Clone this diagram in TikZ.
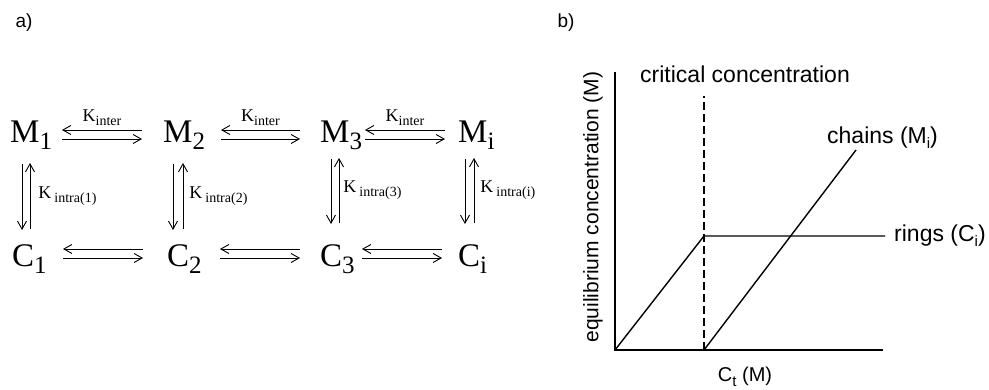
\documentclass[tikz,border=0pt]{standalone}
\usepackage{fontspec}
\setmainfont{Liberation Serif}
\setsansfont{Liberation Sans}
\usetikzlibrary{positioning,arrows.meta}
\newcommand{\msub}[1]{\raisebox{-7pt}{\fontsize{25}{25}\selectfont #1}}
\newcommand{\ksub}[1]{\raisebox{-4pt}{\fontsize{14}{14}\selectfont #1}}
\newcommand{\gsub}[1]{\raisebox{-5pt}{\fontsize{15}{15}\selectfont #1}}
\tikzset{
  mol/.style={anchor=base west,inner sep=0pt,font=\fontsize{33}{33}\selectfont},
  klab/.style={inner sep=0pt,font=\fontsize{18}{18}\selectfont},
  fwd/.style={-{Straight Barb[length=8pt,width=9pt]},line width=0.9pt},
  bwd/.style={{Straight Barb[length=8pt,width=9pt]}-,line width=0.9pt},
  axis/.style={line width=1.4pt},
  curve/.style={line width=1.4pt},
  critline/.style={line width=1.2pt,dash pattern=on 8pt off 4pt},
  glab/.style={inner sep=0pt,font=\sffamily\fontsize{23}{23}\selectfont},
  panel/.style={inner sep=0pt,font=\sffamily\fontsize{19}{19}\selectfont}
}
\begin{document}
\begin{tikzpicture}[x=1pt,y=1pt]
\useasboundingbox (0,0) rectangle (989,390);
\node[panel] (pa) at (24,367) {a)}; \node[panel] (pb) at (566,367) {b)};
% scheme a)
\node[mol] (M1) at (10,247) {M\msub{1}}; \node[mol] (M2) at (163,247) {M\msub{2}}; \node[mol] (M3) at (320,247) {M\msub{3}}; \node[mol] (Mi) at (458,247) {M\msub{i}};
\node[mol] (C1) at (12,123) {C\msub{1}}; \node[mol] (C2) at (167,123) {C\msub{2}}; \node[mol] (C3) at (320,123) {C\msub{3}}; \node[mol] (Ci) at (458,123) {C\msub{i}};
\draw[bwd] ([shift={(52,13)}]M1.base west) -- node[klab,above=4pt]{K\ksub{inter}} ([shift={(-21,13)}]M2.base west); \draw[fwd] ([shift={(52,4)}]M1.base west) -- ([shift={(-21,4)}]M2.base west);
\draw[bwd] ([shift={(58,13)}]M2.base west) -- node[klab,above=4pt]{K\ksub{inter}} ([shift={(-20,13)}]M3.base west); \draw[fwd] ([shift={(58,4)}]M2.base west) -- ([shift={(-20,4)}]M3.base west);
\draw[bwd] ([shift={(45,13)}]M3.base west) -- node[klab,above=4pt]{K\ksub{inter}} ([shift={(-13,13)}]Mi.base west); \draw[fwd] ([shift={(45,4)}]M3.base west) -- ([shift={(-13,4)}]Mi.base west);
\draw[bwd] ([shift={(51,18)}]C1.base west) -- ([shift={(-24,18)}]C2.base west); \draw[fwd] ([shift={(51,9)}]C1.base west) -- ([shift={(-24,9)}]C2.base west);
\draw[bwd] ([shift={(53,18)}]C2.base west) -- ([shift={(-20,18)}]C3.base west); \draw[fwd] ([shift={(53,9)}]C2.base west) -- ([shift={(-20,9)}]C3.base west);
\draw[bwd] ([shift={(42,18)}]C3.base west) -- ([shift={(-16,18)}]Ci.base west); \draw[fwd] ([shift={(42,9)}]C3.base west) -- ([shift={(-16,9)}]Ci.base west);
\draw[fwd] ([shift={(12,-21)}]M1.base west) -- ([shift={(10,37)}]C1.base west); \draw[bwd] ([shift={(20,-20)}]M1.base west) -- node[klab,right=8pt]{K\,\ksub{intra(1)}} ([shift={(18,38)}]C1.base west);
\draw[fwd] ([shift={(10,-21)}]M2.base west) -- ([shift={(6,37)}]C2.base west); \draw[bwd] ([shift={(20,-20)}]M2.base west) -- node[klab,right=6pt]{K\,\ksub{intra(2)}} ([shift={(16,38)}]C2.base west);
\draw[fwd] ([shift={(11,-16)}]M3.base west) -- ([shift={(11,43)}]C3.base west); \draw[bwd] ([shift={(19,-15)}]M3.base west) -- node[klab,right=4pt]{K\,\ksub{intra(3)}} ([shift={(19,44)}]C3.base west);
\draw[fwd] ([shift={(7,-16)}]Mi.base west) -- ([shift={(7,43)}]Ci.base west); \draw[bwd] ([shift={(16,-15)}]Mi.base west) -- node[klab,right=6pt]{K\,\ksub{intra(i)}} ([shift={(16,44)}]Ci.base west);
% plot b)
\coordinate (O) at (615,40); \coordinate (ytop) at (615,318); \coordinate (xend) at (883,40);
\coordinate (cc) at (704,40); \coordinate (cctop) at (704,294); \coordinate (knee) at (704,154); \coordinate (rend) at (885,154); \coordinate (cend) at (856,240);
\draw[axis] (ytop) -- (O) -- (xend);
\draw[critline] (cc) -- (cctop);
\draw[curve] (O) -- (knee) -- (rend);
\draw[curve] (cc) -- (cend);
\node[glab,anchor=base west] (crit) at (640,307) {critical concentration};
\node[glab,anchor=base west] (chains) at (827,246) {chains (M\gsub{i})};
\node[glab,anchor=base west] (rings) at (894,148) {rings (C\gsub{i})};
\node[glab,font=\sffamily\fontsize{20}{20}\selectfont,anchor=base] (ct) at (745,8) {C\gsub{t} (M)};
\node[glab,font=\sffamily\fontsize{21}{21}\selectfont,rotate=90] (ylab) at (593,183) {equilibrium concentration (M)};
\end{tikzpicture}
\end{document}
